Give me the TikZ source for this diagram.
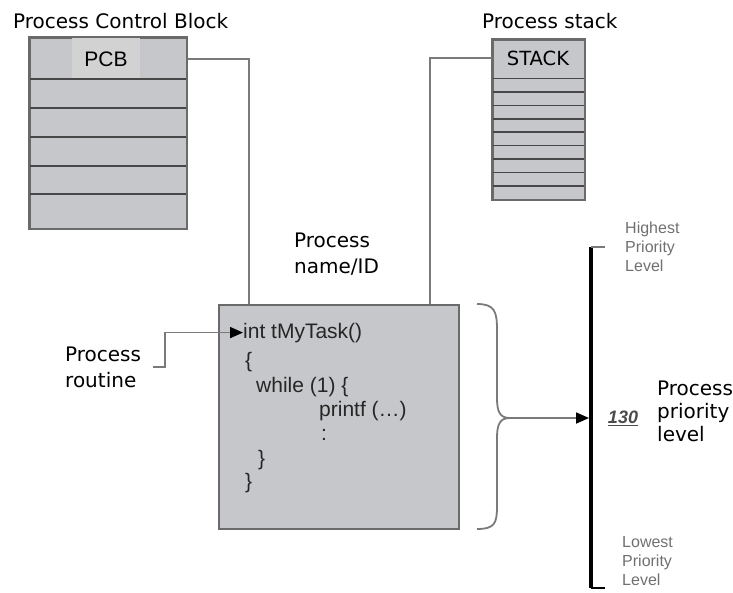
\documentclass[tikz,border=0pt]{standalone}
\usepackage{fontspec}
\setmainfont{DejaVu Sans}
\newfontfamily\codefont{Liberation Sans}
\usetikzlibrary{arrows.meta}
\definecolor{boxfill}{HTML}{C6C7CA}
\definecolor{boxedge}{HTML}{6A6A6A}
\definecolor{rowedge}{HTML}{474747}
\definecolor{labelfill}{HTML}{D2D2D3}
\definecolor{wirecol}{HTML}{7A7A7A}
\definecolor{faint}{HTML}{707070}
\tikzset{>={Triangle[length=13pt,width=11pt,color=black]}}
\tikzset{
  block/.style={draw=boxedge,fill=boxfill,line width=1.6pt,inner sep=0pt,anchor=north west},
  rowline/.style={draw=rowedge,line width=1.6pt},
  wire/.style={draw=wirecol,line width=1.8pt},
  title/.style={font=\fontsize{20}{26}\selectfont,anchor=base west,inner sep=0pt,align=left},
  code/.style={font=\codefont\fontsize{21}{24}\selectfont,text=black!85,anchor=base west,inner sep=0pt},
  prio/.style={font=\codefont\fontsize{16}{19}\selectfont,text=faint,anchor=west,inner sep=0pt,align=left}
}

\begin{document}
\begin{tikzpicture}[x=1pt,y=-1pt]
    \useasboundingbox (0,0) rectangle (733,592);
    % process control block
    \node[title] (pcbtitle) at (13,28) {Process Control Block};
    \node[block,minimum width=157pt,minimum height=191pt] (pcb) at (29,37) {};
    \fill[labelfill] (72,38) rectangle (140,78);
    \node[font=\codefont\fontsize{21}{24}\selectfont] (pcblabel) at (106,59) {PCB};
    \foreach \y in {79,108,137,166,194}
        \draw[rowline] (29,\y) -- (186,\y);
    \draw[boxedge,line width=1.6pt] (pcb.north west) rectangle (pcb.south east);
    % process stack
    \node[title] (stacktitle) at (482,28) {Process stack};
    \node[block,minimum width=92pt,minimum height=160pt] (stack) at (492,39) {};
    \node[font=\fontsize{19.5}{23}\selectfont] (stacklabel) at (538,58) {STACK};
    \foreach \i in {0,...,8}
        \draw[rowline] (492,{78.5+13.4*\i}) -- (584,{78.5+13.4*\i});
    \draw[boxedge,line width=1.6pt] (stack.north west) rectangle (stack.south east);
    % task routine
    \node[block,minimum width=240pt,minimum height=224pt] (task) at (218,304) {};
    \node[code] (sig) at (243,338) {int tMyTask()};
    \node[code] (open) at (245,367) {\{};
    \node[code] (loop) at (256,392) {while (1) \{};
    \node[code] (call) at (319,416) {printf (…)};
    \node[code] (dots) at (321,440) {:};
    \node[code] (close) at (258,465) {\}};
    \node[code] (end) at (245,488) {\}};
    % labels and wires
    \node[title] (name) at (294,273) {Process\\name/ID};
    \node[title,anchor=west] (routine) at (65,367) {Process\\routine};
    \coordinate (pcbdrop) at (249,304);
    \coordinate (stackdrop) at (430,304);
    \draw[wire] (pcb.east |- pcblabel) -| (pcbdrop);
    \draw[wire] (stack.west |- stacklabel) -| (stackdrop);
    \draw[wire,->] ([xshift=12pt]routine.east) -- ++(12,0) |- (sig.west);
    % brace and priority scale
    \coordinate (bracetip) at (510,418);
    \draw[wire] (477,304) .. controls (495,304) and (497,312) .. (497,330) -- (497,398)
        .. controls (497,412) and (500,418) .. (bracetip)
        .. controls (500,418) and (497,424) .. (497,438) -- (497,506)
        .. controls (497,523) and (495,529) .. (477,529);
    \coordinate (top) at (591,247);
    \coordinate (bottom) at (591,588);
    \draw[black,line width=4pt] (top) -- (bottom);
    \draw[wirecol,line width=1.5pt] (top) -- ++(14,0);
    \draw[black,line width=1.5pt] (bottom) -- ++(14,0);
    \draw[wire,->] (bracetip) -- ([xshift=-2pt]bracetip -| top);
    \node[prio] (high) at (625,247) {Highest\\Priority\\Level};
    \node[prio] (low) at (622,561) {Lowest\\Priority\\Level};
    \node[font=\codefont\bfseries\itshape\fontsize{18}{22}\selectfont,text=black!70,inner sep=0pt] (level) at (623,418) {\underline{130}};
    \node[title,anchor=west,font=\fontsize{20}{23}\selectfont] (prioname) at (657,411) {Process\\priority\\level};
\end{tikzpicture}
\end{document}
